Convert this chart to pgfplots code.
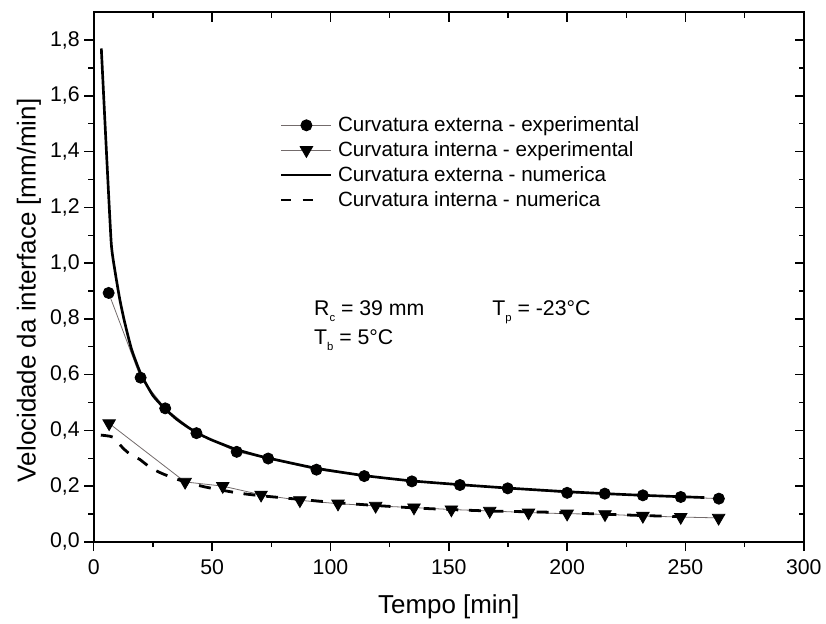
\documentclass[border=0pt]{standalone}
\usepackage{pgfplots}
\pgfplotsset{compat=1.18}
\usepackage{fontspec}
\setmainfont{Liberation Sans}
\definecolor{expgray}{rgb}{0.45,0.42,0.42}
\pgfplotsset{dashleg/.style={legend image code/.code={\draw[##1, dash pattern=on 7.5pt off 8.5pt] (0cm,0cm) -- (0.84cm,0cm);}}}
\begin{document}
\begin{tikzpicture}
\path (-70.5pt,-60.5pt) rectangle (549pt,407.5pt);
\begin{axis}[
  scale only axis, width=534pt, height=398.3pt,
  xmin=0, xmax=300, ymin=0, ymax=1.9,
  xtick={0,50,...,300}, ytick={0,0.2,...,1.8},
  minor x tick num=1, minor y tick num=1,
  xtick pos=left, ytick pos=left, tick align=outside,
  major tick length=7pt, minor tick length=4pt,
  axis line style={line width=1.3pt},
  every tick/.style={line width=1.1pt, black},
  /pgf/number format/assume math mode=true,
  yticklabel style={/pgf/number format/.cd, use comma, fixed, fixed zerofill, precision=1},
  xticklabel style={yshift=-3pt},
  ticklabel style={font=\fontsize{16}{19}\selectfont},
  xlabel={Tempo [min]}, ylabel={Velocidade da interface [mm/min]},
  label style={font=\fontsize{19.5}{22}\selectfont},
  xlabel style={yshift=-8pt},
  ylabel style={yshift=0pt, xshift=-10pt},
  legend style={at={(0.262,0.808)}, anchor=north west, draw=none, fill=none,
     font=\fontsize{15.5}{18.5}\selectfont, inner sep=0pt, row sep=2pt,
     /tikz/every odd column/.append style={column sep=2pt}},
  legend cell align=left,
  legend image code/.code={\draw[mark repeat=2,mark phase=2,#1] plot coordinates {(0cm,0cm) (0.66cm,0cm) (1.32cm,0cm)};},
]
\addplot[expgray, line width=0.6pt, mark=*, mark size=4.2pt, mark options={fill=black, draw=black, solid}] coordinates {
(6.3,0.893) (19.8,0.589) (30.2,0.479) (43.4,0.390) (60.4,0.323) (73.7,0.299)
(94.1,0.259) (114.3,0.236) (134.4,0.217) (154.7,0.204) (174.9,0.192) (200,0.176)
(215.9,0.173) (232,0.167) (248,0.161) (264.1,0.155)};
\addlegendentry{Curvatura externa - experimental}
\addplot[expgray, line width=0.6pt, mark=triangle*, mark size=5.4pt, mark options={fill=black, draw=black, rotate=180, solid}] coordinates {
(6.5,0.425) (38.6,0.215) (54.5,0.200) (70.7,0.169) (87.1,0.149) (103.2,0.137)
(119.1,0.129) (135.3,0.123) (151.1,0.116) (167.3,0.111) (183.7,0.105) (200,0.101)
(216,0.099) (232,0.093) (248,0.089) (264,0.086)};
\addlegendentry{Curvatura interna - experimental}
\addplot[black, line width=2pt, smooth, tension=0.3] coordinates {
(3.2,1.77) (5.3,1.41) (7.4,1.07) (9,0.97) (11,0.87) (13,0.79) (16,0.69) (20,0.60)
(25,0.525) (30,0.478) (35,0.44) (40,0.41) (45,0.385) (50,0.365) (60,0.332)
(70,0.308) (80,0.289) (94,0.264) (114,0.238) (134,0.219) (155,0.205) (175,0.193)
(192,0.184) (200,0.180) (216,0.173) (232,0.167) (248,0.162) (258,0.159)};
\addlegendentry{Curvatura externa - numerica}
\addplot[black, line width=2.1pt, dash pattern=on 9pt off 8pt, smooth, tension=0.3, dashleg] coordinates {
(3,0.383) (8,0.376) (12.5,0.335) (16,0.31) (19.4,0.296) (24.3,0.264) (29.2,0.244)
(35,0.225) (40,0.212) (47,0.197) (55,0.184) (62,0.174) (70,0.166) (80,0.158)
(90,0.150) (105,0.139) (120,0.130) (135,0.122) (150,0.116) (170,0.110)
(190,0.107) (210,0.101) (230,0.095) (250,0.090)};
\addlegendentry{Curvatura interna - numerica}
\node[anchor=base west, font=\fontsize{16}{19}\selectfont, inner sep=0pt] at (axis cs:93,0.813)
  {R\raisebox{-4.5pt}{\fontsize{8.5}{8.5}\selectfont c} = 39 mm};
\node[anchor=base west, font=\fontsize{16}{19}\selectfont, inner sep=0pt] at (axis cs:168.3,0.813)
  {T\raisebox{-4.5pt}{\fontsize{8.5}{8.5}\selectfont p} = -23°C};
\node[anchor=base west, font=\fontsize{16}{19}\selectfont, inner sep=0pt] at (axis cs:93,0.709)
  {T\raisebox{-4.5pt}{\fontsize{8.5}{8.5}\selectfont b} = 5°C};
\end{axis}
\begin{axis}[
  scale only axis, width=534pt, height=398.3pt,
  xmin=0, xmax=300, ymin=0, ymax=1.9,
  xtick={0,50,...,300}, ytick={0,0.2,...,1.8},
  minor x tick num=1, minor y tick num=1,
  xtick pos=right, ytick pos=right, tick align=inside,
  major tick length=7pt, minor tick length=4pt,
  axis line style={line width=1.3pt},
  every tick/.style={line width=1.1pt, black},
  xticklabels={}, yticklabels={},
]
\end{axis}
\end{tikzpicture}
\end{document}
